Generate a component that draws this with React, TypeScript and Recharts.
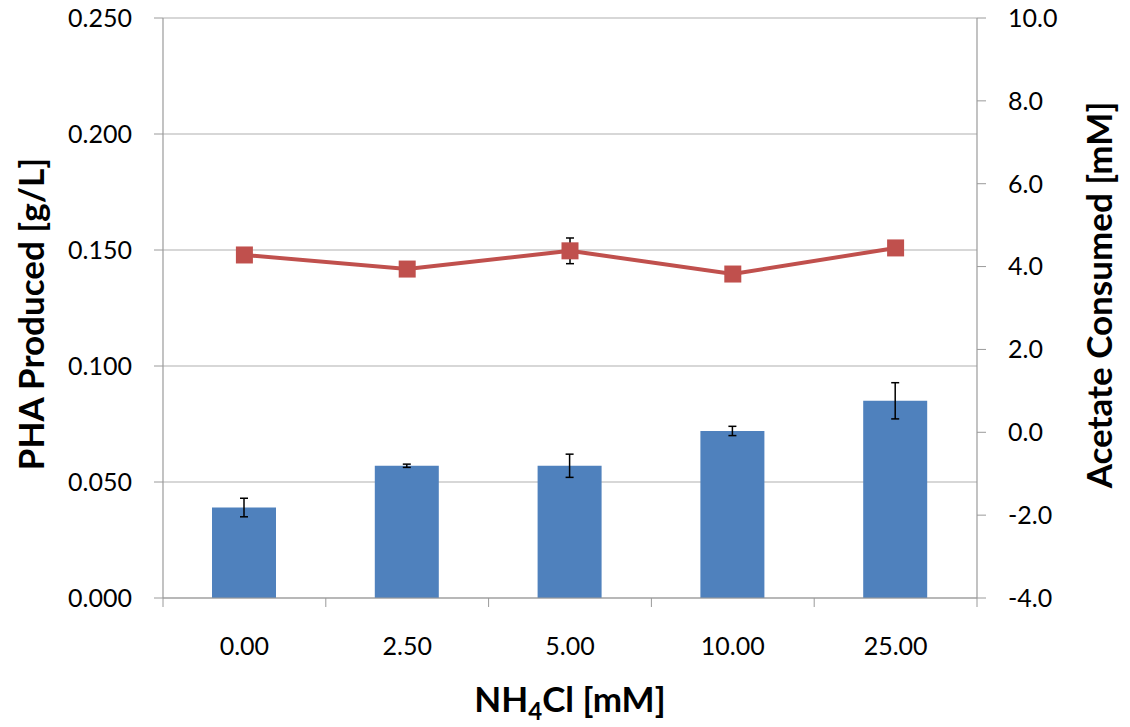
import React from 'react';
import { ComposedChart, Bar, Line, XAxis, YAxis, CartesianGrid, ErrorBar } from 'recharts';

// NH4Cl concentration groups
const categories = ['0.00', '2.50', '5.00', '10.00', '25.00'];
// PHA produced (g/L) with standard deviation
const phaProduced = [0.039, 0.057, 0.057, 0.072, 0.085];
const phaError = [0.004, 0.0007, 0.005, 0.002, 0.0078];
// Acetate consumed (mM) with standard deviation
const acetateConsumed = [4.28, 3.94, 4.38, 3.82, 4.45];
const acetateError = [0, 0, 0.31, 0, 0];
// Axis ticks
const leftTicks = [0, 0.05, 0.1, 0.15, 0.2, 0.25];
const rightTicks = [-4, -2, 0, 2, 4, 6, 8, 10];

const data = categories.map((c, i) => ({
  nh4cl: c,
  pha: phaProduced[i],
  phaErr: phaError[i],
  acetate: acetateConsumed[i],
  acetateErr: acetateError[i],
}));

const FONT = 'Lato, "Open Sans", sans-serif';
const AXIS = '#9a9a9a';
const GRID = '#b0b0b0';
const BAR = '#4f81bd';
const LINE = '#c0504d';

const tickStyle = { fontFamily: FONT, fontSize: 25, fill: '#000' };

const SquareDot = (props: any) => {
  const { cx, cy, index } = props;
  if (cx == null || cy == null) return null;
  return <rect key={`sq-${index}`} x={cx - 8.5} y={cy - 8.5} width={17} height={17} fill={LINE} />;
};

// Category tick: label at the band centre, tick marks at the band edges
const CategoryTick = (props: any) => {
  const { x, y, payload } = props;
  const half = payload && payload.offset ? payload.offset : 0;
  const isLast = payload.value === categories[categories.length - 1];
  return (
    <g>
      <line x1={x - half} x2={x - half} y1={y} y2={y + 9} stroke={AXIS} strokeWidth={1} />
      {isLast && <line x1={x + half} x2={x + half} y1={y} y2={y + 9} stroke={AXIS} strokeWidth={1} />}
      <text x={x} y={y + 57} textAnchor="middle" style={tickStyle}>
        {payload.value}
      </text>
    </g>
  );
};

const XTitle = (props: any) => {
  const vb = props.viewBox;
  const cx = vb.x + vb.width / 2;
  const by = vb.y + 114;
  return (
    <text x={cx} y={by} textAnchor="middle" style={{ fontFamily: FONT, fontSize: 35, fontWeight: 700, fill: '#000' }}>
      <tspan>NH</tspan>
      <tspan fontSize={24} dy={8}>4</tspan>
      <tspan dy={-8}>Cl [mM]</tspan>
    </text>
  );
};

const LeftTitle = (props: any) => {
  const vb = props.viewBox;
  const cx = vb.x + 44;
  const cy = vb.y + vb.height / 2 + 6;
  return (
    <text
      x={cx}
      y={cy}
      transform={`rotate(-90 ${cx} ${cy})`}
      textAnchor="middle"
      style={{ fontFamily: FONT, fontSize: 35, fontWeight: 700, fill: '#000' }}
    >
      PHA Produced [g/L]
    </text>
  );
};

const RightTitle = (props: any) => {
  const vb = props.viewBox;
  const cx = vb.x + 135;
  const cy = vb.y + vb.height / 2 - 13;
  return (
    <text
      x={cx}
      y={cy}
      transform={`rotate(-90 ${cx} ${cy})`}
      textAnchor="middle"
      style={{ fontFamily: FONT, fontSize: 35, fontWeight: 700, fill: '#000' }}
    >
      Acetate Consumed [mM]
    </text>
  );
};

export default function App() {
  return (
    <div style={{ position: 'absolute', left: 0, top: 0, width: 1130, height: 727, background: '#fff' }}>
      <ComposedChart width={1130} height={727} data={data} margin={{ top: 18, right: 0, bottom: 0, left: 0 }}>
        <CartesianGrid vertical={false} stroke={GRID} strokeWidth={1.2} />
        <XAxis
          dataKey="nh4cl"
          height={129}
          tickLine={false}
          tickSize={0}
          tickMargin={0}
          axisLine={{ stroke: AXIS, strokeWidth: 1.2 }}
          tick={<CategoryTick />}
          interval={0}
          label={<XTitle />}
        />
        <YAxis
          width={163}
          domain={[0, 0.25]}
          ticks={leftTicks}
          tickFormatter={(v: number) => v.toFixed(3)}
          tickSize={9}
          tickMargin={22}
          tick={tickStyle}
          tickLine={{ stroke: AXIS }}
          axisLine={{ stroke: AXIS, strokeWidth: 1.2 }}
          label={<LeftTitle />}
        />
        <YAxis
          yAxisId="right"
          orientation="right"
          width={153}
          domain={[-4, 10]}
          ticks={rightTicks}
          tickFormatter={(v: number) => v.toFixed(1)}
          tickSize={9}
          tickMargin={22}
          tick={tickStyle}
          tickLine={{ stroke: AXIS }}
          axisLine={{ stroke: AXIS, strokeWidth: 1.2 }}
          label={<RightTitle />}
        />
        <Bar dataKey="pha" fill={BAR} barSize={64} isAnimationActive={false}>
          <ErrorBar dataKey="phaErr" width={4} stroke="#000" strokeWidth={1.5} direction="y" />
        </Bar>
        <Line
          yAxisId="right"
          dataKey="acetate"
          stroke={LINE}
          strokeWidth={4}
          dot={<SquareDot />}
          activeDot={false}
          isAnimationActive={false}
        >
          <ErrorBar dataKey="acetateErr" width={4} stroke="#000" strokeWidth={1.5} direction="y" />
        </Line>
      </ComposedChart>
    </div>
  );
}
